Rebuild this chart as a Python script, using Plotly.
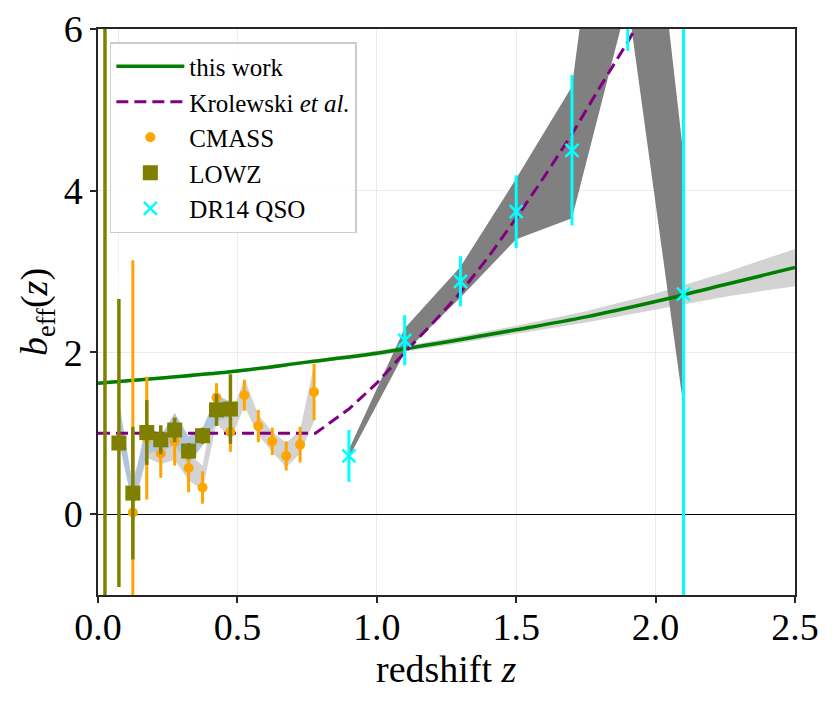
import plotly.graph_objects as go

# "this work" effective bias and its band
z_model = [0.0, 0.25, 0.5, 0.75, 1.0, 1.25, 1.5, 1.75, 2.0, 2.25, 2.5]
b_model = [1.62, 1.69, 1.77, 1.88, 1.99, 2.13, 2.28, 2.44, 2.63, 2.84, 3.05]
b_model_lo = [1.60, 1.67, 1.75, 1.86, 1.96, 2.09, 2.23, 2.37, 2.53, 2.69, 2.82]
b_model_hi = [1.64, 1.71, 1.79, 1.90, 2.02, 2.17, 2.33, 2.51, 2.73, 2.99, 3.28]

# Krolewski et al. bias model
z_krol = [0.0, 0.78, 0.9, 1.0, 1.1, 1.2, 1.3, 1.4, 1.5, 1.6, 1.7, 1.8, 1.9, 2.0]
b_krol = [1.0, 1.0, 1.30, 1.62, 2.0, 2.36, 2.74, 3.18, 3.66, 4.17, 4.70, 5.28, 5.84, 6.45]

# CMASS measurements and model band
z_cmass = [0.125, 0.175, 0.225, 0.275, 0.325, 0.375, 0.425, 0.475,
           0.525, 0.575, 0.625, 0.675, 0.725, 0.775]
b_cmass = [0.02, 0.94, 0.75, 0.90, 0.57, 0.33, 1.44, 1.02,
           1.47, 1.09, 0.90, 0.72, 0.86, 1.51]
err_cmass = [3.12, 0.76, 0.30, 0.30, 0.30, 0.20, 0.18, 0.25,
             0.19, 0.20, 0.17, 0.18, 0.22, 0.35]
cmass_lo = [0.02, 0.70, 0.62, 0.67, 0.42, 0.30, 1.13, 0.92,
            1.33, 0.98, 0.77, 0.58, 0.75, 1.15]
cmass_hi = [0.45, 0.92, 0.83, 0.92, 0.75, 0.60, 1.50, 1.19,
            1.68, 1.23, 1.02, 0.88, 1.04, 1.85]

# LOWZ measurements and model band
z_lowz = [0.025, 0.075, 0.125, 0.175, 0.225, 0.275, 0.325, 0.375, 0.425, 0.475]
b_lowz = [9.0, 0.88, 0.26, 1.01, 0.92, 1.04, 0.78, 0.97, 1.29, 1.30]
err_lowz = [15.0, 1.78, 0.82, 0.40, 0.18, 0.15, 0.10, 0.10, 0.20, 0.43]
lowz_lo = [100.0, 0.90, 0.09, 0.75, 0.78, 0.85, 0.62, 0.85, 1.15, 1.20]
lowz_hi = [200.0, 1.40, 0.35, 1.13, 0.96, 1.25, 0.96, 1.06, 1.47, 1.39]

# DR14 QSO measurements and model band
z_qso = [0.9, 1.1, 1.3, 1.5, 1.7, 1.9, 2.1]
b_qso = [0.72, 2.15, 2.88, 3.74, 4.50, 7.6, 2.72]
err_qso = [0.32, 0.31, 0.31, 0.45, 0.93, 1.87, 5.0]
qso_lo = [0.70, 2.00, 2.68, 3.40, 3.66, 6.35, 1.33]
qso_hi = [0.80, 2.30, 3.06, 4.15, 5.29, 10.5, 4.44]

FONT = "Liberation Serif"


def band(x, lo, hi, color):
    return go.Scatter(x=list(x) + list(x)[::-1], y=list(hi) + list(lo)[::-1],
                      fill="toself", fillcolor=color, mode="lines",
                      line=dict(width=0, color=color), showlegend=False,
                      hoverinfo="skip")


fig = go.Figure()

fig.add_trace(band(z_model, b_model_lo, b_model_hi, "lightgray"))
fig.add_trace(band(z_cmass, cmass_lo, cmass_hi, "lightgray"))
fig.add_trace(band(z_lowz, lowz_lo, lowz_hi, "lightsteelblue"))
fig.add_trace(band(z_qso, qso_lo, qso_hi, "gray"))

fig.add_trace(go.Scatter(x=z_model, y=b_model, mode="lines", name="this work",
                         line=dict(color="green", width=3.5, shape="spline")))
fig.add_trace(go.Scatter(x=z_krol, y=b_krol, mode="lines",
                         name="Krolewski <i>et al.</i>",
                         line=dict(color="purple", width=3, dash="12px,6px")))

fig.add_trace(go.Scatter(
    x=z_cmass, y=b_cmass, mode="markers", name="CMASS",
    marker=dict(color="orange", size=10, symbol="circle"),
    error_y=dict(type="data", array=err_cmass, color="orange",
                 thickness=3, width=0)))
fig.add_trace(go.Scatter(
    x=z_lowz, y=b_lowz, mode="markers", name="LOWZ",
    marker=dict(color="olive", size=15, symbol="square"),
    error_y=dict(type="data", array=err_lowz, color="olive",
                 thickness=3.5, width=0)))
fig.add_trace(go.Scatter(
    x=z_qso, y=b_qso, mode="markers", name="DR14 QSO",
    marker=dict(color="cyan", size=13, symbol="x-thin",
                line=dict(color="cyan", width=2.5)),
    error_y=dict(type="data", array=err_qso, color="cyan",
                 thickness=3, width=0)))

axis_common = dict(
    showline=True, linecolor="#262626", linewidth=1.5, mirror=True,
    ticks="outside", ticklen=6, tickwidth=1.5, tickcolor="#262626",
    showgrid=True, gridcolor="#ebebeb", gridwidth=1, automargin=False,
    tickfont=dict(family=FONT, size=38, color="black"),
)

# the page body adds an 8px offset, so margins are shifted to compensate
fig.update_layout(
    width=835, height=707,
    margin=dict(l=90, r=48, t=21, b=120),
    plot_bgcolor="white", paper_bgcolor="white",
    font=dict(family=FONT, color="black"),
    xaxis=dict(range=[0, 2.5], tickvals=[0, 0.5, 1.0, 1.5, 2.0, 2.5],
               tickformat=".1f", zeroline=False, ticklabelstandoff=-8,
               **axis_common),
    yaxis=dict(range=[-1, 6], tickvals=[0, 2, 4, 6],
               zeroline=True, zerolinecolor="black", zerolinewidth=1,
               title=dict(text="<i>b</i><sub>eff</sub>(<i>z</i>)",
                          font=dict(family=FONT, size=38), standoff=4),
               **axis_common),
    legend=dict(x=0.017, y=0.977, xanchor="left", yanchor="top",
                bgcolor="rgba(255,255,255,0.85)", bordercolor="#cccccc",
                borderwidth=1.5, itemwidth=68,
                font=dict(family=FONT, size=25, color="black"),
                tracegroupgap=0),
    showlegend=True,
)

fig.add_annotation(text="redshift <i>z</i>", xref="paper", yref="paper",
                   x=0.5, y=0, yanchor="middle", yshift=-74, showarrow=False,
                   font=dict(family=FONT, size=38, color="black"))

fig.write_html("out.html")
